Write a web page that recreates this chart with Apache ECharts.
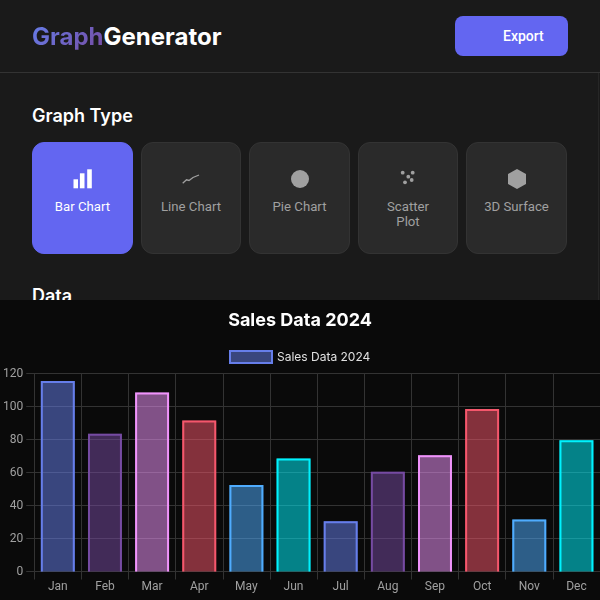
<!DOCTYPE html>
<html>
<head>
<meta charset="utf-8">
<title>GraphGenerator</title>
<script src="https://cdn.jsdelivr.net/npm/echarts@6/dist/echarts.min.js"></script>
<style>
html,body{margin:0;padding:0;width:600px;height:600px;overflow:hidden;background:#0a0a0a}
#panel{position:absolute;left:0;top:0;width:600px;height:300px;background:#1a1a1a;overflow:hidden;font-family:Roboto,sans-serif}
#panel div{position:absolute}
.logo{left:32px;top:22px;font:700 24px/30px Inter,sans-serif;color:#fff;white-space:nowrap}
.logo span{background:linear-gradient(135deg,#667eea,#764ba2);-webkit-background-clip:text;background-clip:text;color:transparent}
.rule{left:0;top:72px;width:600px;height:1px;background:#333}
.edge{left:598px;top:73px;width:1px;height:227px;background:#262626}
.btn{left:455px;top:16px;width:113px;height:40px;border-radius:8px;background:#6366f1;color:#fff;font:500 14px/40px Roboto,sans-serif;text-indent:48px}
.h{left:32px;font:600 18px/24px Inter,sans-serif;color:#fff}
.card{top:142px;height:112px;box-sizing:border-box;border:1px solid #333;border-radius:12px;background:#2a2a2a;color:#a0a0a0;text-align:center;font:400 13.2px/15px Roboto,sans-serif}
.card.on{background:#6366f1;border-color:#6366f1;color:#fff}
.card span{position:absolute;left:0;right:0;top:56px}
.card svg{position:absolute;left:50%;top:24px;margin-left:-12px}
</style>
</head>
<body>
<div id="panel">
  <div class="logo"><span>Graph</span>Generator</div>
  <div class="btn">Export</div>
  <div class="rule"></div>
  <div class="edge"></div>
  <div class="h" style="top:104px">Graph Type</div>
  <div class="card on" style="left:32px;width:101px">
    <svg width="24" height="24" viewBox="0 0 24 24" fill="#fff"><rect x="2.5" y="12.3" width="4.5" height="9"/><rect x="8.9" y="6.3" width="4.6" height="15"/><rect x="16.2" y="2.3" width="4.6" height="19"/></svg>
    <span>Bar Chart</span></div>
  <div class="card" style="left:141px;width:100px">
    <svg width="24" height="24" viewBox="0 0 24 24" fill="none" stroke="#a0a0a0" stroke-width="1.3"><polyline points="3.7,16.3 7.5,12.8 10,13.5 14,10.5 20,8"/></svg>
    <span>Line Chart</span></div>
  <div class="card" style="left:249px;width:101px">
    <svg width="24" height="24" viewBox="0 0 24 24" fill="#a0a0a0"><circle cx="12" cy="12" r="9"/></svg>
    <span>Pie Chart</span></div>
  <div class="card" style="left:358px;width:100px">
    <svg width="24" height="24" viewBox="0 0 24 24" fill="#a0a0a0"><circle cx="6.7" cy="5.7" r="1.9"/><circle cx="16.7" cy="5.7" r="1.9"/><circle cx="12.3" cy="9.7" r="1.9"/><circle cx="15.7" cy="13" r="1.9"/><circle cx="9" cy="15.3" r="1.9"/></svg>
    <span>Scatter<br>Plot</span></div>
  <div class="card" style="left:466px;width:101px">
    <svg width="24" height="24" viewBox="0 0 24 24" fill="#a0a0a0"><polygon points="12,2 21,7 21,17 12,22 3,17 3,7"/></svg>
    <span>3D Surface</span></div>
  <div class="h" style="top:284px">Data</div>
</div>
<div id="main" style="position:absolute;left:0;top:300px;width:600px;height:300px;"></div>
<script>
var months = ['Jan','Feb','Mar','Apr','May','Jun','Jul','Aug','Sep','Oct','Nov','Dec'];
var sales = [115.5,83.5,108.5,91.5,52.5,68.5,30.5,60.5,70.5,98.5,31.5,79.5];
var strokes = ['#667eea','#764ba2','#f093fb','#f5576c','#4facfe','#00f2fe'];
var fills = ['rgba(102,126,234,0.52)','rgba(118,75,162,0.52)','rgba(240,147,251,0.52)','rgba(245,87,108,0.52)','rgba(79,172,254,0.52)','rgba(0,242,254,0.52)'];
var seriesName = 'Sales Data 2024';

var gridColor = '#333';
var chart = echarts.init(document.getElementById('main'));

// bars with the border inside the box and none along the baseline
function drawBar(params, api) {
	var i = api.value(0);
	var top = api.coord([i, api.value(1)]);
	var base = api.coord([i, 0]);
	var w = api.size([1, 0])[0] * 0.72;
	var l = top[0] - w / 2, r = top[0] + w / 2;
	return {
		type: 'group',
		children: [{
			type: 'rect',
			shape: {x: l, y: top[1], width: w, height: base[1] - top[1]},
			style: {fill: fills[i % 6]}
		}, {
			type: 'polyline',
			shape: {points: [[l + 1, base[1]], [l + 1, top[1] + 1], [r - 1, top[1] + 1], [r - 1, base[1]]]},
			style: {fill: 'none', stroke: strokes[i % 6], lineWidth: 2}
		}]
	};
}

var option = {
	backgroundColor: '#0a0a0a',
	animation: false,
	title: {
		text: seriesName,
		left: 'center',
		top: 7,
		textStyle: {color: '#fff', fontFamily: 'Inter', fontWeight: 700, fontSize: 18}
	},
	legend: {
		top: 45,
		left: 224,
		icon: 'rect',
		itemWidth: 42,
		itemHeight: 12,
		textStyle: {color: '#e0e0e0', fontFamily: 'Inter', fontSize: 12}
	},
	grid: {left: 34, right: 0, top: 73.5, bottom: 28.5},
	xAxis: {
		type: 'category',
		data: months,
		axisLine: {show: true, lineStyle: {color: gridColor}},
		axisTick: {show: true, length: 8, lineStyle: {color: gridColor}},
		splitLine: {show: true, lineStyle: {color: gridColor}},
		axisLabel: {color: '#a0a0a0', fontFamily: 'Roboto', fontSize: 12, margin: 9, interval: 0}
	},
	yAxis: {
		type: 'value',
		min: 0,
		max: 120,
		interval: 20,
		axisLine: {show: true, lineStyle: {color: gridColor}},
		axisTick: {show: true, length: 8, lineStyle: {color: gridColor}},
		splitLine: {show: true, lineStyle: {color: gridColor}},
		axisLabel: {color: '#a0a0a0', fontFamily: 'Roboto', fontSize: 12, margin: 11}
	},
	series: [{
		name: seriesName,
		type: 'custom',
		renderItem: drawBar,
		encode: {x: 0, y: 1},
		itemStyle: {color: fills[0], borderColor: strokes[0], borderWidth: 2},
		data: sales.map(function (v, i) { return [i, v]; })
	}]
};
chart.setOption(option);
</script>
</body>
</html>
